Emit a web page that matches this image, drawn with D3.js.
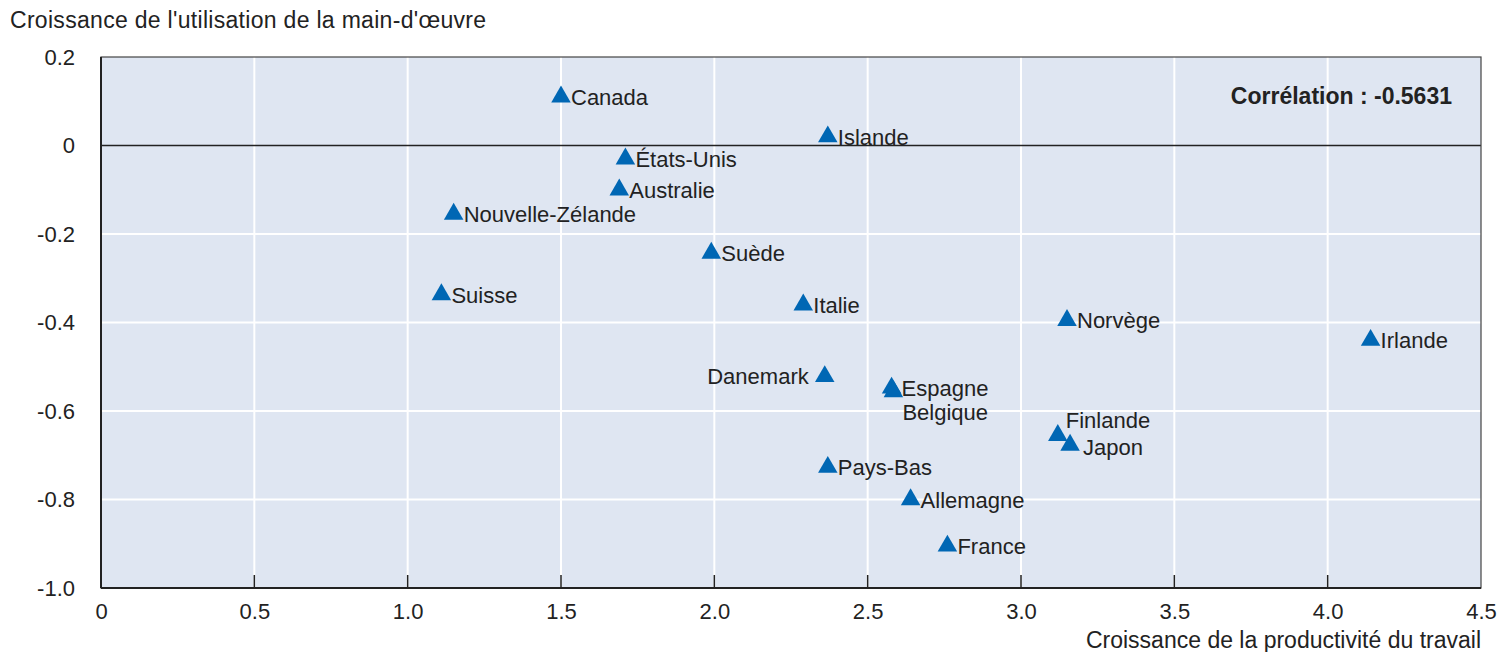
<!DOCTYPE html>
<html><head><meta charset="utf-8">
<script src="https://cdn.jsdelivr.net/npm/d3@7"></script>
<style>
body{margin:0;background:#fff;}
text{font-family:"Liberation Sans",Arial,sans-serif;fill:#222;}
</style></head><body>
<svg id="c" width="1497" height="652"></svg>
<script>
const countries = ["Canada","Islande","États-Unis","Australie","Nouvelle-Zélande","Suède","Suisse","Italie","Norvège","Irlande","Danemark","Espagne","Belgique","Finlande","Japon","Pays-Bas","Allemagne","France"];
const productivity = [1.50,2.37,1.71,1.69,1.15,1.99,1.11,2.29,3.15,4.14,2.36,2.578,2.584,3.12,3.16,2.37,2.64,2.76];
const labourUse = [0.11,0.02,-0.03,-0.10,-0.155,-0.243,-0.337,-0.36,-0.395,-0.44,-0.522,-0.548,-0.556,-0.655,-0.677,-0.727,-0.80,-0.905];
const labelPos = ["right","right","right","right","right","right","right","right","right","right","left","right","below","upright","farright","right","right","right"];
const xTicks = [0,0.5,1.0,1.5,2.0,2.5,3.0,3.5,4.0,4.5];
const yTicks = [0.2,0,-0.2,-0.4,-0.6,-0.8,-1.0];
const xTitle = "Croissance de la productivité du travail";
const yTitle = "Croissance de l'utilisation de la main-d'œuvre";
const corrText = "Corrélation : -0.5631";

const svg = d3.select("#c");
const L=101,R=1481,T=57,B=588;
const x = d3.scaleLinear().domain([0,4.5]).range([L,R]);
const y = d3.scaleLinear().domain([-1.0,0.2]).range([B,T]);

svg.append("rect").attr("x",L).attr("y",T).attr("width",R-L).attr("height",B-T).attr("fill","#dfe6f2");
// grid
svg.append("g").selectAll("line").data(xTicks.slice(1,-1)).join("line")
  .attr("x1",d=>x(d)).attr("x2",d=>x(d)).attr("y1",T).attr("y2",B).attr("stroke","#fff").attr("stroke-width",2);
svg.append("g").selectAll("line").data(yTicks.filter(d=>d!==0.2&&d!==-1.0&&d!==0)).join("line")
  .attr("x1",L).attr("x2",R).attr("y1",d=>y(d)).attr("y2",d=>y(d)).attr("stroke","#fff").attr("stroke-width",2);
// zero line
svg.append("line").attr("x1",L).attr("x2",R).attr("y1",y(0)).attr("y2",y(0)).attr("stroke","#222").attr("stroke-width",1.5);
// frame
svg.append("rect").attr("x",L).attr("y",T).attr("width",R-L).attr("height",B-T).attr("fill","none").attr("stroke","#444").attr("stroke-width",1.2);
svg.append("line").attr("x1",L).attr("x2",R).attr("y1",B).attr("y2",B).attr("stroke","#222").attr("stroke-width",2);
svg.append("line").attr("x1",L).attr("x2",L).attr("y1",T).attr("y2",B).attr("stroke","#222").attr("stroke-width",2);

// x axis
const xAxis = d3.axisBottom(x).tickValues(xTicks).tickSize(0).tickPadding(15)
  .tickFormat(d=>d===0?"0":d3.format(".1f")(d));
const gx = svg.append("g").attr("transform",`translate(0,${B})`).call(xAxis);
gx.select(".domain").remove();
gx.selectAll("text").attr("font-size",22).style("font-family",null).attr("fill","#222");
svg.append("g").selectAll("line").data(xTicks.slice(1,-1)).join("line")
  .attr("x1",d=>x(d)).attr("x2",d=>x(d)).attr("y1",B-13).attr("y2",B).attr("stroke","#222").attr("stroke-width",1.5);

// y axis
const yAxis = d3.axisLeft(y).tickValues(yTicks).tickSize(0).tickPadding(26)
  .tickFormat(d=>d===0?"0":d3.format(".1f")(d).replace("−","-"));
const gy = svg.append("g").attr("transform",`translate(${L},0)`).call(yAxis);
gy.select(".domain").remove();
gy.selectAll("text").attr("font-size",22).style("font-family",null).attr("fill","#222");

// titles
svg.append("text").attr("x",10).attr("y",28).attr("font-size",23).attr("letter-spacing",0.3).text(yTitle);
svg.append("text").attr("x",R).attr("y",648).attr("text-anchor","end").attr("font-size",23).text(xTitle);
svg.append("text").attr("x",1452).attr("y",104).attr("text-anchor","end").attr("font-size",23).attr("font-weight","bold").text(corrText);

// points
const tri = d3.symbol().type(d3.symbolTriangle).size(165);
const data = countries.map((c,i)=>({c,px:productivity[i],py:labourUse[i],pos:labelPos[i]}));
svg.append("g").selectAll("path").data(data).join("path")
  .attr("d",tri).attr("transform",d=>`translate(${x(d.px)},${y(d.py)})`).attr("fill","#0067b4");
svg.append("g").selectAll("text").data(data).join("text")
  .attr("font-size",22)
  .attr("x",d=>{const X=x(d.px); if(d.pos==="left") return X-16; if(d.pos==="below") return X+9; if(d.pos==="upright") return X+8; if(d.pos==="farright") return X+13; return X+10;})
  .attr("y",d=>{const Y=y(d.py); if(d.pos==="below") return Y+28; if(d.pos==="upright") return Y-7; if(d.pos==="farright") return Y+10; return Y+8;})
  .attr("text-anchor",d=>d.pos==="left"?"end":"start")
  .text(d=>d.c);
</script></body></html>
